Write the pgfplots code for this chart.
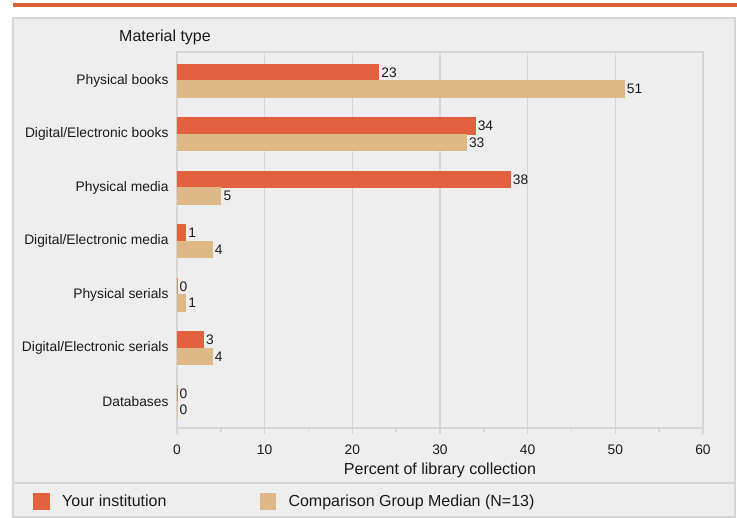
\documentclass[border=0pt]{standalone}
\usepackage{pgfplots}
\pgfplotsset{compat=1.18}
\usepackage{fontspec}
\setmainfont{Liberation Sans}
\definecolor{barorange}{HTML}{E4613F}
\definecolor{bartan}{HTML}{DFB887}
\definecolor{panelbg}{HTML}{EEEEEE}
\definecolor{panelline}{HTML}{D6D6D6}
\definecolor{topline}{HTML}{DA603C}
\definecolor{txt}{HTML}{1A1A1A}
\newcommand{\cf}{\fontsize{13.8}{16}\selectfont}
\newcommand{\tf}{\fontsize{16}{19}\selectfont}
\begin{document}
\begin{tikzpicture}[x=1pt,y=1pt]
\fill[topline] (13,511) rectangle (737,515);
\filldraw[fill=panelbg, draw=panelline, line width=1.5pt] (13,1) rectangle (735,500);
\draw[panelline, line width=1.5pt] (13,35) -- (735,35);
\node[anchor=west, font=\tf, text=txt, inner sep=0pt] at (119,481) {Material type};
\begin{axis}[
  at={(177pt,90pt)}, anchor=south west,
  width=526pt, height=376pt, scale only axis,
  xbar, bar width=16.5pt,
  xmin=0, xmax=60, ymin=-0.495, ymax=6.533,
  xtick={0,10,...,60}, minor xtick={5,15,...,55},
  xtick pos=lower, tick align=outside,
  major tick length=6pt, minor tick length=4pt,
  ytick={0,...,6},
  yticklabels={Databases, Digital/Electronic serials, Physical serials, Digital/Electronic media, Physical media, Digital/Electronic books, Physical books},
  ytick style={draw=none},
  xmajorgrids, grid style={panelline, line width=1.5pt},
  axis line style={panelline, line width=1.5pt},
  tick style={panelline, line width=1.5pt},
  /pgf/number format/assume math mode=true,
  tick label style={font=\cf, text=txt},
  xticklabel style={yshift=-7pt},
  yticklabel style={xshift=1pt},
  xlabel={Percent of library collection},
  xlabel style={font=\tf, text=txt, anchor=center, at={(axis description cs:0.5,-0.1117)}},
  nodes near coords,
  nodes near coords style={font=\cf, text=txt, anchor=west, xshift=-1pt,
    /pgf/number format/fixed, /pgf/number format/precision=0,
    /pgf/number format/assume math mode=true},
  legend columns=2,
  legend style={at={(axis description cs:-0.2738,-0.1955)}, anchor=west,
    draw=none, fill=none, font=\tf, text=txt, inner sep=0pt,
    /tikz/every even column/.append style={column sep=90pt},
    nodes={inner sep=3pt}},
]
\addplot[fill=barorange, draw=barorange, line width=0.8pt, bar shift=8.25pt,
  legend image code/.code={\path[draw=none,fill=none] (0pt,-1pt) rectangle (26pt,1pt);\fill[barorange,draw=none] (0pt,-8.35pt) rectangle (16.7pt,8.35pt);}]
  coordinates {(23,6) (34,5) (38,4) (1,3) (0,2) (3,1) (0,0)};
\addlegendentry{Your institution}
\addplot[fill=bartan, draw=bartan, line width=0.8pt, bar shift=-8.25pt,
  legend image code/.code={\path[draw=none,fill=none] (0pt,-1pt) rectangle (26pt,1pt);\fill[bartan,draw=none] (0pt,-8.35pt) rectangle (16.7pt,8.35pt);}]
  coordinates {(51,6) (33,5) (5,4) (4,3) (1,2) (4,1) (0,0)};
\addlegendentry{Comparison Group Median (N=13)}
\end{axis}
\pgfresetboundingbox
\useasboundingbox (0,0) rectangle (737,518);
\end{tikzpicture}
\end{document}
